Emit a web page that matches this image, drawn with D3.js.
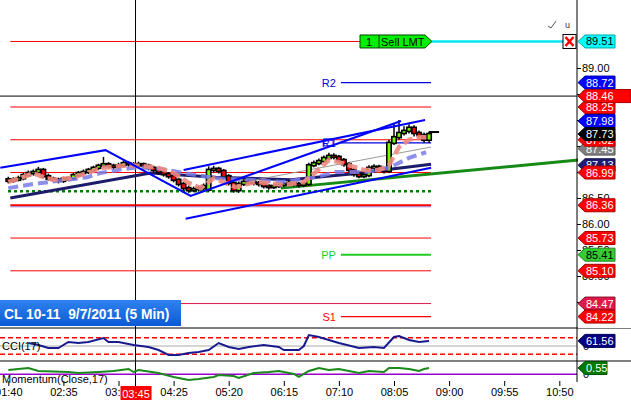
<!DOCTYPE html>
<html>
<head>
<meta charset="utf-8">
<script src="https://cdn.jsdelivr.net/npm/d3@7"></script>
<style>
  body { margin: 0; background: #fff; }
  svg { display: block; font-family: "Liberation Sans", Arial, sans-serif; }
</style>
</head>
<body>
<svg id="chart" width="631" height="404"></svg>
<script>
// ---- data ----
const barStart = "01:40";      // first 5 min bar
const barMinutes = 5;

const opens = [86.86,86.83,86.85,86.88,86.94,86.98,87.00,87.04,86.92,86.87, 86.85,86.83,86.87,86.88,86.94,86.98,87.00,87.04,87.08,87.12,
  87.15,87.12,87.10,87.13,87.17,87.15,87.13,87.15,87.12,87.08, 87.04,87.00,86.96,86.92,86.85,86.77,86.69,86.65,86.67,86.69,
  86.66,87.04,87.06,87.02,86.92,86.79,86.65,86.77,86.81,86.81, 86.79,86.77,86.73,86.71,86.73,86.75,86.77,86.79,86.77,86.75,
  86.77,87.13,87.17,87.21,87.27,87.31,87.29,87.23,87.15,87.04, 86.96,86.92,86.94,87.08,87.10,87.06,87.02,87.56,87.67,87.75,
  87.79,87.85,87.75,87.71,87.62];
const highs = [86.89,86.88,86.91,86.97,87.01,87.03,87.08,87.06,86.95,86.89, 86.87,86.89,86.90,86.96,87.00,87.03,87.06,87.10,87.14,87.27,
  87.17,87.14,87.16,87.20,87.19,87.17,87.18,87.16,87.14,87.10, 87.06,87.02,86.98,86.94,86.87,86.79,86.72,86.70,86.72,86.76,
  87.09,87.10,87.08,87.04,86.94,86.81,86.80,86.84,86.84,86.83, 86.81,86.79,86.75,86.76,86.78,86.80,86.82,86.81,86.79,86.80,
  87.16,87.20,87.24,87.30,87.35,87.34,87.31,87.25,87.17,87.06, 86.98,86.97,87.11,87.13,87.12,87.08,87.60,87.92,87.98,87.86,
  87.90,87.88,87.78,87.74,87.76];
const lows = [86.80,86.81,86.84,86.86,86.92,86.95,86.97,86.90,86.85,86.82, 86.80,86.81,86.85,86.87,86.92,86.96,86.98,87.02,87.06,87.10,
  87.09,87.07,87.08,87.11,87.12,87.10,87.11,87.09,87.05,87.01, 86.97,86.93,86.89,86.82,86.74,86.66,86.62,86.63,86.64,86.66,
  86.64,87.01,86.99,86.89,86.76,86.62,86.62,86.75,86.78,86.76, 86.74,86.70,86.68,86.69,86.71,86.73,86.75,86.74,86.72,86.73,
  86.75,87.11,87.15,87.19,87.25,87.26,87.20,87.12,87.01,86.93, 86.90,86.90,86.92,87.06,87.03,86.99,87.00,87.54,87.64,87.72,
  87.76,87.70,87.66,87.58,87.58];
const closes = [86.83,86.85,86.88,86.94,86.98,87.00,87.04,86.92,86.87,86.85, 86.83,86.87,86.88,86.94,86.98,87.00,87.04,87.08,87.12,87.15,
  87.12,87.10,87.13,87.17,87.15,87.13,87.15,87.12,87.08,87.04, 87.00,86.96,86.92,86.85,86.77,86.69,86.65,86.67,86.69,86.73,
  87.04,87.06,87.02,86.92,86.79,86.65,86.77,86.81,86.81,86.79, 86.77,86.73,86.71,86.73,86.75,86.77,86.79,86.77,86.75,86.77,
  87.13,87.17,87.21,87.27,87.31,87.29,87.23,87.15,87.04,86.96, 86.92,86.94,87.08,87.10,87.06,87.02,87.56,87.67,87.75,87.79,
  87.85,87.75,87.71,87.62,87.73];

// moving averages, [bar index, price]
const fastMa = [[0,86.81],[2.4,86.88],[5,86.98],[7,86.90],[9,86.85],[12,86.88],[14.4,86.94],[16.4,87.00],[18.4,87.08],
  [21,87.10],[24,87.13],[26.4,87.12],[30,87.08],[33,86.98],[36,86.79],[38.4,86.69],[41,86.88],[45.4,86.71],[49.4,86.81],
  [55,86.75],[59,86.81],[61.4,87.00],[64,87.23],[66,87.19],[69,87.10],[71,87.04],[74,87.04],[76,87.13],[78,87.48],
  [80,87.62],[82,87.67],[84,87.67]];
const slowMa = [[0,86.69],[5,86.77],[8.4,86.81],[11.8,86.85],[15.8,86.90],[18.4,86.98],[21.8,87.04],[25,87.08],[28.4,87.08],
  [31.8,87.04],[35,86.98],[41.4,86.88],[48,86.85],[54.8,86.81],[61.4,86.90],[65.4,87.00],[71.4,87.00],[76,87.08],
  [80,87.27],[83.4,87.38]];

// drawn trend lines, [time, price]
const zigzag = [["01:32",87.08],["03:17",87.42],["04:42",86.54],["08:12",87.98]];
const channelTop = [["04:35",87.04],["08:36",88.00]];
const channelLow = [["04:37",86.10],["08:42",87.08]];
const grayLine = [["05:47",86.85],["08:42",87.48]];
const navyLine = [["01:42",86.50],["04:02",86.98],["05:07",86.90],["06:22",86.85],["07:22",86.96],["08:42",87.15]];
const greenTrend = [["06:12",86.69],["11:09",87.23]];

// horizontal levels
const levelStart = "01:42", levelEnd = "08:42", pivotStart = "07:12";
const redLevels = [88.25, 87.62, 86.99, 86.36, 85.73, 85.10];
const crimsonLevel = 84.47;
const dottedLevel = 86.63;
const pivotNames = ["R2", "R1", "PP", "S1"];
const pivotValues = [88.72, 87.56, 85.41, 84.22];
const pivotColors = ["#0000e0", "#0000e0", "#22cc22", "#ff0000"];
const orderPrice = 89.51, orderQty = "1", orderText = "Sell LMT";

// price tags on the right scale
const tagValues = [89.51, 88.72, 88.25, 87.98, 87.45, 87.62, 87.73, 87.13, 86.99, 86.36, 85.73, 85.41, 85.10, 84.47, 84.22];
const tagFills  = ["#00ffff","#0000ff","#ff0000","#0000ff","#808080","#ff0000","#000000","#1c1c70","#ff0000","#ff0000","#ff0000","#33cc33","#ff0000","#dc1a4a","#ff0000"];
const tagInk    = ["#000","#fff","#fff","#fff","#fff","#fff","#fff","#fff","#fff","#fff","#fff","#000","#fff","#fff","#fff"];
const priceTicks = [84.5, 85, 85.5, 86, 86.5, 87, 87.5, 88, 88.5, 89];
const crossTime = "03:47", crossLabel = "03:45", crossPrice = 88.46;

// indicators, [bar index, value]
const cci = [[4,36],[6,12],[8,-24],[10,-24],[12,48],[14,36],[16,48],[19,96],[20,48],[22,48],[25,12],[28,-12],[30,-48],
  [32,-108],[34,-108],[36,-84],[38,-72],[40,-48],[42,36],[44,-12],[46,-36],[48,-12],[51,12],[54,-12],[55,-48],[58,-48],
  [59,0],[60,132],[62,108],[66,36],[70,-24],[73,-12],[75,-24],[77,108],[78,120],[80,72],[82,48],[84,60]];
const cciLast = 61.56;
const momentum = [[0,0.37],[4,0.55],[6,0.29],[12,0.2],[14,0.11],[18,0.2],[21,0.29],[24,0.46],[25,0.2],[26,0.37],[30,0.11],
  [33,-0.23],[36,-0.5],[38,-0.41],[41,-0.23],[42,-0.06],[45,-0.15],[46,-0.32],[49,0.11],[52,0.2],[54,0.29],[57,0.03],
  [58,-0.23],[60,0.29],[62,0.55],[64,0.37],[66,0.46],[68,0.29],[70,0.11],[72,0.29],[75,0.2],[76,0.55],[78,0.55],[80,0.46],
  [82,0.29],[83,0.46],[84,0.55]];
const momLast = 0.55;
const timeTicks = ["01:40","02:35","03:30","04:25","05:20","06:15","07:10","08:05","09:00","09:55","10:50"];
const title = "CL 10-11  9/7/2011 (5 Min)";

// ---- helpers ----
const parseHM = d3.timeParse("%Y-%m-%d %H:%M");
const t = s => parseHM("2011-09-07 " + s);
const t0 = t(barStart);
const barTime = i => d3.timeMinute.offset(t0, i * barMinutes);

const svg = d3.select("#chart");
const W = 631, axisX = 577;

const x = d3.scaleTime().domain([t("01:40"), t("10:50")]).range([8.3, 559.3]);
const y = d3.scaleLinear().domain([84, 89]).range([328, 68]);
const yCci = d3.scaleLinear().domain([-100, 100]).range([354.3, 337.7]);
const yMom = d3.scaleLinear().domain([0, 1]).range([374.3, 362.8]);

const tpLine = d3.line().x(d => x(t(d[0]))).y(d => y(d[1]));
const barLine = yScale => d3.line().x(d => x(barTime(d[0]))).y(d => yScale(d[1]));

const bars = closes.map((c, i) => ({ i, o: opens[i], h: highs[i], l: lows[i], c }));

// ---- main panel ----
const main = svg.append("g");

// red 89.51 order line + cyan part
main.append("line").attr("x1", x(t(levelStart))).attr("x2", 360)
  .attr("y1", y(orderPrice)).attr("y2", y(orderPrice)).attr("stroke", "#ff0000");
main.append("line").attr("x1", 432).attr("x2", 563)
  .attr("y1", y(orderPrice)).attr("y2", y(orderPrice)).attr("stroke", "#00e8f0").attr("stroke-width", 2.5);

main.selectAll(".lvl").data(redLevels).join("line")
  .attr("x1", x(t(levelStart))).attr("x2", x(t(levelEnd)))
  .attr("y1", d => y(d)).attr("y2", d => y(d))
  .attr("stroke", "#ff0000")
  .attr("stroke-width", d => d === 86.36 ? 2 : 1);
main.append("line").attr("x1", x(t(levelStart))).attr("x2", x(t(levelEnd)))
  .attr("y1", y(86.36) + 1.5).attr("y2", y(86.36) + 1.5).attr("stroke", "#9a7ad0").attr("stroke-width", 1);
main.append("line").attr("x1", x(t(levelStart))).attr("x2", x(t(levelEnd)))
  .attr("y1", y(crimsonLevel)).attr("y2", y(crimsonLevel)).attr("stroke", "#dc1a4a");

// pivots
pivotValues.forEach((v, k) => {
  main.append("line").attr("x1", x(t(pivotStart))).attr("x2", x(t(levelEnd)))
    .attr("y1", y(v)).attr("y2", y(v)).attr("stroke", pivotColors[k])
    .attr("stroke-width", pivotNames[k] === "PP" ? 2 : 1.2);
  main.append("text").attr("x", x(t(pivotStart)) - 5).attr("y", y(v) + 4)
    .attr("text-anchor", "end").attr("font-size", 11).attr("fill", pivotColors[k]).text(pivotNames[k]);
});
main.append("rect").attr("x", x(t(pivotStart)) - 17).attr("y", y(pivotValues[1]) - 4)
  .attr("width", 10).attr("height", 7).attr("fill", "none").attr("stroke", "#0000e0");

// dotted support
main.append("line").attr("x1", 8).attr("x2", x(t(levelEnd)))
  .attr("y1", y(dottedLevel)).attr("y2", y(dottedLevel))
  .attr("stroke", "#008000").attr("stroke-width", 2.5).attr("stroke-dasharray", "3,3");

// crosshair
main.append("line").attr("x1", 0).attr("x2", axisX).attr("y1", y(crossPrice)).attr("y2", y(crossPrice)).attr("stroke", "#000");
main.append("line").attr("x1", x(t(crossTime))).attr("x2", x(t(crossTime))).attr("y1", 0).attr("y2", 386).attr("stroke", "#000");

// long MA + trend lines under candles
main.append("path").attr("d", tpLine(navyLine)).attr("fill", "none").attr("stroke", "#1c1c6a").attr("stroke-width", 3);
main.append("path").attr("d", tpLine(grayLine)).attr("fill", "none").attr("stroke", "#999").attr("stroke-width", 1);
main.append("path").attr("d", tpLine(greenTrend)).attr("fill", "none").attr("stroke", "#168a16").attr("stroke-width", 3);

// candles
const cg = main.selectAll(".bar").data(bars).join("g");
cg.append("line")
  .attr("x1", d => x(barTime(d.i))).attr("x2", d => x(barTime(d.i)))
  .attr("y1", d => y(d.h) - 1).attr("y2", d => y(d.l) + 1)
  .attr("stroke", "#000").attr("stroke-width", 1.5);
cg.append("rect")
  .attr("x", d => x(barTime(d.i)) - 2.2).attr("width", 4.4)
  .attr("y", d => y(Math.max(d.o, d.c)) - 0.5)
  .attr("height", d => Math.max(2, Math.abs(y(d.o) - y(d.c)) + 1))
  .attr("fill", d => d.c >= d.o ? "#7cfc00" : "#ff0000")
  .attr("stroke", "#000").attr("stroke-width", 1.6);
const last = bars[bars.length - 1];
main.append("line").attr("x1", x(barTime(last.i))).attr("x2", x(barTime(last.i)) + 10)
  .attr("y1", y(last.c) - 2).attr("y2", y(last.c) - 2).attr("stroke", "#000").attr("stroke-width", 2);

// MAs on top
main.append("path").attr("d", barLine(y)(slowMa)).attr("fill", "none")
  .attr("stroke", "#7a7ae8").attr("stroke-opacity", 0.85).attr("stroke-width", 4).attr("stroke-dasharray", "10,5");
main.append("path").attr("d", barLine(y)(fastMa)).attr("fill", "none")
  .attr("stroke", "#f08a80").attr("stroke-opacity", 0.9).attr("stroke-width", 4.5).attr("stroke-dasharray", "10,4");

// blue drawn lines
[zigzag, channelTop, channelLow].forEach(pts => {
  main.append("path").attr("d", tpLine(pts)).attr("fill", "none").attr("stroke", "#0000ff").attr("stroke-width", 2);
});

// order tag
const oy = y(orderPrice);
main.append("polygon")
  .attr("points", [[360, oy - 6.5], [425, oy - 6.5], [432, oy], [425, oy + 6.5], [360, oy + 6.5]].join(" "))
  .attr("fill", "#00ee00").attr("stroke", "#004400");
main.append("line").attr("x1", 379).attr("x2", 379).attr("y1", oy - 6.5).attr("y2", oy + 6.5).attr("stroke", "#004400");
main.append("text").attr("x", 366).attr("y", oy + 4.5).attr("font-size", 11).text(orderQty);
main.append("text").attr("x", 381).attr("y", oy + 4.5).attr("font-size", 11).text(orderText);
main.append("rect").attr("x", 563).attr("y", oy - 7).attr("width", 13).attr("height", 14).attr("fill", "#fff").attr("stroke", "#000");
main.append("path").attr("d", `M565.5,${oy - 4.5}L573.5,${oy + 4.5}M573.5,${oy - 4.5}L565.5,${oy + 4.5}`)
  .attr("stroke", "#ff0000").attr("stroke-width", 2.5);
main.append("path").attr("d", "M548,26 L551,28 L556,21").attr("fill", "none").attr("stroke", "#555");
main.append("text").attr("x", 565).attr("y", 28).attr("font-size", 9).attr("fill", "#333").text("u");

// ---- panels ----
svg.append("line").attr("x1", 0).attr("x2", W).attr("y1", 328).attr("y2", 328).attr("stroke", "#000");
svg.append("line").attr("x1", 0).attr("x2", W).attr("y1", 361).attr("y2", 361).attr("stroke", "#000");

// CCI
const cp = svg.append("g");
cp.append("line").attr("x1", 0).attr("x2", axisX).attr("y1", yCci(0)).attr("y2", yCci(0)).attr("stroke", "#aaa");
[100, -100].forEach(v => cp.append("line").attr("x1", 0).attr("x2", axisX).attr("y1", yCci(v)).attr("y2", yCci(v))
  .attr("stroke", "#ff0000").attr("stroke-width", 1.5).attr("stroke-dasharray", "5,3"));
cp.append("path").attr("d", barLine(yCci)(cci)).attr("fill", "none").attr("stroke", "#1a1a90").attr("stroke-width", 2);
cp.append("text").attr("x", 2).attr("y", 350).attr("font-size", 11).text("CCI(17)");

// Momentum
const mp = svg.append("g");
mp.append("line").attr("x1", 0).attr("x2", axisX).attr("y1", yMom(0)).attr("y2", yMom(0)).attr("stroke", "#9900cc").attr("stroke-width", 1.5);
mp.append("path").attr("d", barLine(yMom)(momentum)).attr("fill", "none").attr("stroke", "#1a8a1a").attr("stroke-width", 2);
mp.append("text").attr("x", 2).attr("y", 383).attr("font-size", 11).text("Momentum(Close,17)");

// title box
const grad = svg.append("defs").append("linearGradient").attr("id", "tb").attr("x1", 0).attr("y1", 0).attr("x2", 0).attr("y2", 1);
grad.append("stop").attr("offset", 0).attr("stop-color", "#2f82ee");
grad.append("stop").attr("offset", 1).attr("stop-color", "#0b5ad6");
svg.append("rect").attr("x", 0).attr("y", 300).attr("width", 181).attr("height", 26).attr("fill", "url(#tb)");
svg.append("text").attr("x", 4).attr("y", 318.5).attr("fill", "#fff").attr("font-size", 13.8).attr("font-weight", "bold")
  .style("white-space", "pre").text(title);

// ---- axes ----
const xa = svg.append("g").attr("transform", "translate(0,381)")
  .call(d3.axisBottom(x).tickValues(timeTicks.map(t)).tickFormat(d3.timeFormat("%H:%M")).tickSize(5).tickPadding(2));
xa.select(".domain").remove();
xa.selectAll("text").attr("font-size", 11).attr("font-family", "Liberation Sans, Arial, sans-serif").attr("fill", "#000");
xa.selectAll("line").attr("stroke", "#000");

svg.append("rect").attr("x", x(t(crossTime)) - 15).attr("y", 386).attr("width", 31).attr("height", 14).attr("fill", "#ff0000");
svg.append("text").attr("x", x(t(crossTime)) + 0.5).attr("y", 397.5).attr("text-anchor", "middle")
  .attr("font-size", 11).attr("fill", "#fff").text(crossLabel);

svg.append("rect").attr("x", axisX + 1).attr("y", 0).attr("width", W - axisX).attr("height", 328).attr("fill", "#fff");
svg.append("line").attr("x1", axisX).attr("x2", axisX).attr("y1", 0).attr("y2", 382).attr("stroke", "#000");
const ya = svg.append("g").attr("transform", `translate(${axisX},0)`)
  .call(d3.axisRight(y).tickValues(priceTicks).tickFormat(d3.format(".2f")).tickSize(4).tickPadding(1));
ya.select(".domain").remove();
ya.selectAll("text").attr("font-size", 11).attr("font-family", "Liberation Sans, Arial, sans-serif").attr("fill", "#000");
svg.append("text").attr("x", 583).attr("y", yCci(0) + 4).attr("font-size", 11).text("0");
svg.append("text").attr("x", 583).attr("y", yMom(0) + 4).attr("font-size", 11).text("0");

function tag(yy, label, fill, ink, right) {
  const g = svg.append("g");
  g.append("polygon")
    .attr("points", [[axisX + 1, yy], [axisX + 8, yy - 6.5], [right, yy - 6.5], [right, yy + 6.5], [axisX + 8, yy + 6.5]].join(" "))
    .attr("fill", fill).attr("stroke", d3.color(fill).darker(1.2)).attr("stroke-width", 1);
  g.append("text").attr("x", axisX + 9).attr("y", yy + 4).attr("font-size", 11).attr("fill", ink).text(label);
}
const fmt = d3.format(".2f");
tagValues.forEach((v, k) => tag(y(v), fmt(v), tagFills[k], tagInk[k], 615));
tag(y(crossPrice), fmt(crossPrice), "#ff0000", "#fff", 631);
tag(yCci(cciLast), fmt(cciLast), "#000080", "#fff", 615);
tag(yMom(momLast), fmt(momLast), "#007a00", "#fff", 607);
</script>
</body>
</html>
